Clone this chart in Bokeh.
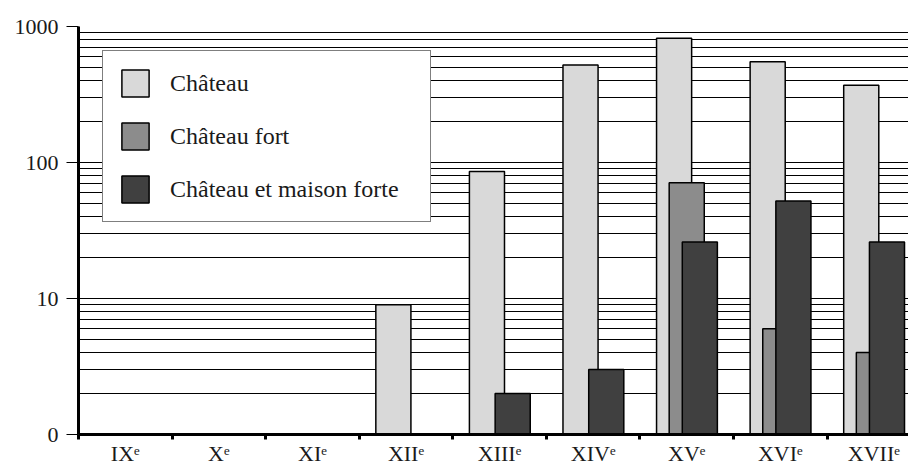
from bokeh.plotting import figure
from bokeh.models import Range1d, FixedTicker, Legend, LegendItem, ColumnDataSource
from bokeh.embed import file_html
from bokeh.resources import INLINE

centuries = ["IX", "X", "XI", "XII", "XIII", "XIV", "XV", "XVI", "XVII"]
chateau = [0, 0, 0, 9, 86, 520, 820, 550, 370]
chateau_fort = [0, 0, 0, 0, 0, 0, 71, 6, 4]
maison_forte = [0, 0, 0, 0, 2, 3, 26, 52, 26]
y_ticks = [1, 10, 100, 1000]
y_tick_labels = ["0", "10", "100", "1000"]
series_names = ["Château", "Château fort", "Château et maison forte"]

colors = ["#d9d9d9", "#8c8c8c", "#404040"]
offsets = [-0.135, 0.0, 0.14]
bar_w = 0.375
FONT = "'Liberation Serif', serif"

p = figure(width=908, height=468, x_range=Range1d(0, 8.87), y_range=Range1d(1, 1000),
           y_axis_type="log", output_backend="svg", toolbar_location=None,
           min_border_left=78, min_border_top=26, min_border_right=0, min_border_bottom=10)
p.outline_line_color = None
p.background_fill_color = "white"
p.border_fill_color = "white"

renderers = []
for vals, col, off in zip([chateau, chateau_fort, maison_forte], colors, offsets):
    xs = [i + 0.5 + off for i, v in enumerate(vals) if v > 0]
    tops = [v for v in vals if v > 0]
    src = ColumnDataSource(dict(x=xs, top=tops))
    r = p.vbar(x="x", top="top", bottom=1, width=bar_w, source=src,
               fill_color=col, line_color="black", line_width=1.5)
    renderers.append(r)

# x axis
centers = [i + 0.5 for i in range(len(centuries))]
bounds = [float(i) for i in range(len(centuries) + 1)]
p.xaxis.ticker = FixedTicker(ticks=centers, minor_ticks=bounds)
p.xaxis.major_label_overrides = {c: f"{n}ᵉ" for c, n in zip(centers, centuries)}
p.xaxis.major_tick_line_color = None
p.xaxis.major_tick_out = 0
p.xaxis.major_tick_in = 0
p.xaxis.minor_tick_line_color = "black"
p.xaxis.minor_tick_line_width = 3
p.xaxis.minor_tick_out = 5
p.xaxis.minor_tick_in = 0
p.xaxis.axis_line_width = 3
p.xaxis.axis_line_color = "black"
p.xaxis.major_label_text_font = FONT
p.xaxis.major_label_text_font_size = "22px"
p.xaxis.major_label_text_color = "#1a1a1a"
p.xaxis.major_label_standoff = 1
p.xgrid.visible = False

# y axis
minor = [k * 10 ** d for d in range(3) for k in range(2, 10)]
p.yaxis.ticker = FixedTicker(ticks=y_ticks, minor_ticks=minor)
p.yaxis.major_label_overrides = {t: l for t, l in zip(y_ticks, y_tick_labels)}
p.yaxis.minor_tick_line_color = None
p.yaxis.minor_tick_out = 0
p.yaxis.major_tick_out = 12
p.yaxis.major_tick_in = 0
p.yaxis.major_tick_line_color = "black"
p.yaxis.axis_line_width = 3
p.yaxis.axis_line_color = "black"
p.yaxis.major_label_text_font = FONT
p.yaxis.major_label_text_font_size = "22px"
p.yaxis.major_label_text_color = "#1a1a1a"
p.yaxis.major_label_standoff = 8
p.ygrid.grid_line_color = "black"
p.ygrid.grid_line_width = 1
p.ygrid.minor_grid_line_color = "black"
p.ygrid.minor_grid_line_width = 1

legend = Legend(items=[LegendItem(label=n, renderers=[r]) for n, r in zip(series_names, renderers)],
                location="top_left", margin=24, padding=15, spacing=19,
                glyph_width=34, glyph_height=34, label_standoff=18, label_width=245,
                label_text_font=FONT, label_text_font_size="24px", label_text_color="#1a1a1a",
                border_line_color="black", border_line_width=1.5,
                background_fill_color="white", background_fill_alpha=1.0)
p.add_layout(legend)

open("out.html", "w").write(file_html(p, INLINE))
